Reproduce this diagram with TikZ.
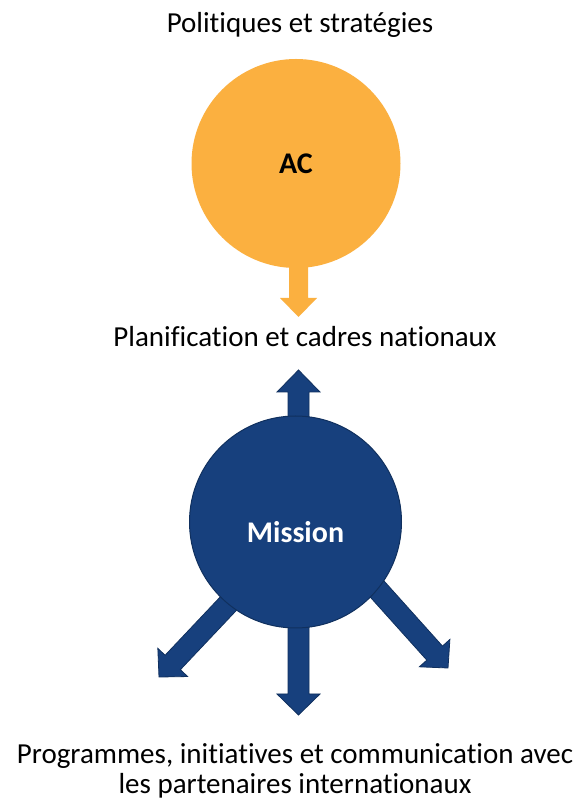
\documentclass[tikz,border=0pt]{standalone}
\usepackage{fontspec}
\setmainfont{Carlito}[Ligatures=NoCommon]
\usetikzlibrary{calc}

\definecolor{acorange}{HTML}{FBB040}
\definecolor{missionblue}{HTML}{17407D}
\definecolor{missionedge}{HTML}{10305E}

% Block arrow from #2 to tip #3: #1 style, #4 shaft half width,
% #5 head half width, #6 head length
\newcommand{\blockarrow}[6]{%
  \coordinate (ba-neck) at ($(#3)!#6!(#2)$);
  \path[#1] ($(#2)!#4!270:(#3)$) -- ($(ba-neck)!#4!270:(#3)$)
    -- ($(ba-neck)!#5!270:(#3)$) -- (#3)
    -- ($(ba-neck)!#5!90:(#3)$) -- ($(ba-neck)!#4!90:(#3)$)
    -- ($(#2)!#4!90:(#3)$) -- cycle;
}

\tikzset{
  txt/.style={font=\fontsize{29}{30}\selectfont, text=black, inner sep=0pt},
  bigdisc/.style={circle, inner sep=0pt},
  acarrow/.style={fill=acorange},
  missionarrow/.style={fill=missionblue, draw=missionedge, line width=0.8pt, line join=miter},
}

\begin{document}
\begin{tikzpicture}[x=1pt, y=1pt]
  \useasboundingbox[fill=white] (0,0) rectangle (582,801);

  % top circle and its arrow
  \coordinate (acstart) at (298.5,637.5);
  \coordinate (actip) at (298.5,484);
  \blockarrow{acarrow}{acstart}{actip}{9.5pt}{18.5pt}{19pt}
  \node[bigdisc, fill=acorange, minimum size=209pt,
        font=\fontsize{30}{30}\selectfont\bfseries] (ac) at (296,637.5) {AC};

  % arrows leaving the mission circle
  \coordinate (upstart) at (298.5,279);
  \coordinate (uptip) at (298.5,431);
  \coordinate (downstart) at (298.5,279);
  \coordinate (downtip) at (298.5,86);
  \coordinate (leftstart) at (236.5,206);
  \coordinate (lefttip) at (159,124);
  \coordinate (rightstart) at (371.8,217.9);
  \coordinate (righttip) at (448,133);
  \blockarrow{missionarrow}{upstart}{uptip}{10.5pt}{21.5pt}{22pt}
  \blockarrow{missionarrow}{downstart}{downtip}{10.5pt}{21.5pt}{21pt}
  \blockarrow{missionarrow}{leftstart}{lefttip}{10.5pt}{20.5pt}{20pt}
  \blockarrow{missionarrow}{rightstart}{righttip}{10.5pt}{20.5pt}{20pt}

  % mission circle
  \node[bigdisc, fill=missionblue, draw=missionedge, line width=1pt,
        minimum size=212pt] (mission) at (295.5,279) {};
  \node[text=white, inner sep=0pt, font=\fontsize{30}{30}\selectfont\bfseries]
    (missionlabel) at ([yshift=-10pt]mission.center) {Mission};

  % captions
  \node[txt, anchor=base] (politiques) at (300,768) {Politiques et stratégies};
  \node[txt, anchor=base] (planif) at (305,454) {Planification et cadres nationaux};
  \node[txt, anchor=base, align=center] (prog) at (295,8)
    {Programmes, initiatives et communication avec\\les partenaires internationaux};
\end{tikzpicture}
\end{document}
